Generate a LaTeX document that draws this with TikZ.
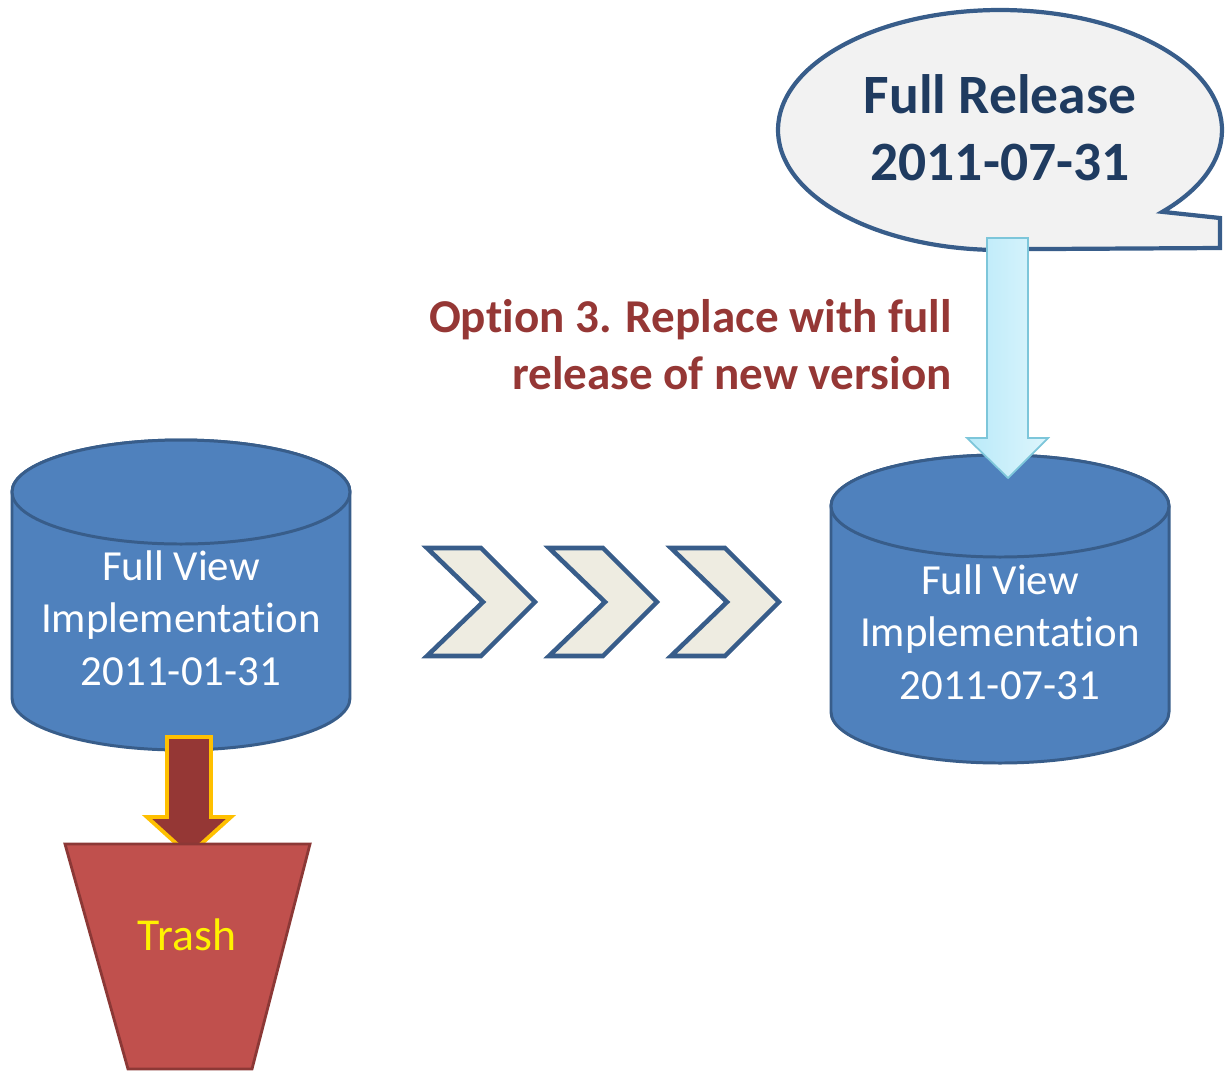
\documentclass[tikz,border=0pt]{standalone}
\usepackage{fontspec}
\setmainfont{Carlito}[Ligatures=CommonOff]
\usepackage{xcolor}
\usetikzlibrary{positioning}
\definecolor{dbblue}{HTML}{4F81BD}
\definecolor{dbedge}{HTML}{385D8A}
\definecolor{bubblegrey}{HTML}{F2F2F2}
\definecolor{bubbleink}{HTML}{1F3B60}
\definecolor{optionred}{HTML}{953735}
\definecolor{chevgrey}{HTML}{EEECE1}
\definecolor{trashred}{HTML}{C0504D}
\definecolor{trashedge}{HTML}{8C3836}
\definecolor{arrowgold}{HTML}{FFC000}
\definecolor{skyleft}{HTML}{B9EAF9}
\definecolor{skyright}{HTML}{DDF5FC}
\definecolor{skyedge}{HTML}{7DC6DA}
\tikzset{
  dbbody/.style={fill=dbblue, draw=dbedge, line width=1.7pt},
  dblabel/.style={text=white, align=center, inner sep=0pt,
    font=\fontsize{24.4}{29.8}\selectfont},
  bubble/.style={fill=bubblegrey, draw=dbedge, line width=2.4pt},
  bubblelabel/.style={text=bubbleink, align=center, inner sep=0pt,
    font=\fontsize{31.6}{38}\selectfont\bfseries},
  optionlabel/.style={text=optionred, align=right, inner sep=0pt,
    font=\fontsize{26.8}{32.3}\selectfont\bfseries},
  chevron/.style={fill=chevgrey, draw=dbedge, line width=2.6pt, line join=miter},
  skyarrow/.style={left color=skyleft, right color=skyright, draw=skyedge, line width=1pt},
  dumparrow/.style={fill=optionred, draw=arrowgold, line width=2.2pt, line join=miter},
  trashbin/.style={fill=trashred, draw=trashedge, line width=1.6pt},
  trashlabel/.style={text=yellow, inner sep=0pt, font=\fontsize{26}{31}\selectfont}
}

\begin{document}
\begin{tikzpicture}[x=0.02cm, y=0.02cm]
  \useasboundingbox (0,0) rectangle (1225,-1073);
  % speech bubble
  \filldraw[bubble] (1000,-130) ++(-43:222 and 120)
    arc[start angle=-43, end angle=277, x radius=222, y radius=120]
    -- (1220,-248) -- (1220,-218) -- cycle;
  \node[bubblelabel] (release) at (1000,-128) {Full Release\\2011-07-31};
  \coordinate (releasefoot) at (1008,-238);
  % old view
  \filldraw[dbbody] (12,-492) -- (12,-698)
    arc[start angle=180, end angle=360, x radius=169, y radius=52]
    -- (350,-492) arc[start angle=0, end angle=180, x radius=169, y radius=52] -- cycle;
  \draw[dbbody] (181,-492) ellipse[x radius=169, y radius=52];
  \node[dblabel] (oldview) at (181,-618) {Full View\\Implementation\\2011-01-31};
  % new view
  \filldraw[dbbody] (831,-506) -- (831,-712)
    arc[start angle=180, end angle=360, x radius=169, y radius=51]
    -- (1169,-506) arc[start angle=0, end angle=180, x radius=169, y radius=51] -- cycle;
  \draw[dbbody] (1000,-506) ellipse[x radius=169, y radius=51];
  \node[dblabel] (newview) at (1000,-632) {Full View\\Implementation\\2011-07-31};
  % chevrons
  \foreach \i in {0,1,2}
    \filldraw[chevron, xshift=\i*122*0.02cm] (427,-548) -- (481,-548) -- (535,-602)
      -- (481,-656) -- (427,-656) -- (483,-602) -- cycle;
  % replacement arrow
  \filldraw[skyarrow, shift={(releasefoot)}] (-21,0) -- (20,0) -- (20,-200) -- (40,-200)
    -- (0,-240) -- (-41,-200) -- (-21,-200) -- cycle;
  \node[optionlabel, anchor=east] (option) at (952,-345)
    {Option 3. Replace with full\\release of new version};
  % trash
  \coordinate (oldfoot) at (189,-737);
  \filldraw[dumparrow, shift={(oldfoot)}] (-22,0) -- (22,0) -- (22,-80) -- (42,-80)
    -- (0,-118) -- (-42,-80) -- (-22,-80) -- cycle;
  \filldraw[trashbin] (65,-844) -- (310,-844) -- (252,-1069) -- (128,-1069) -- cycle;
  \node[trashlabel] (trash) at (187,-935) {Trash};
\end{tikzpicture}
\end{document}
